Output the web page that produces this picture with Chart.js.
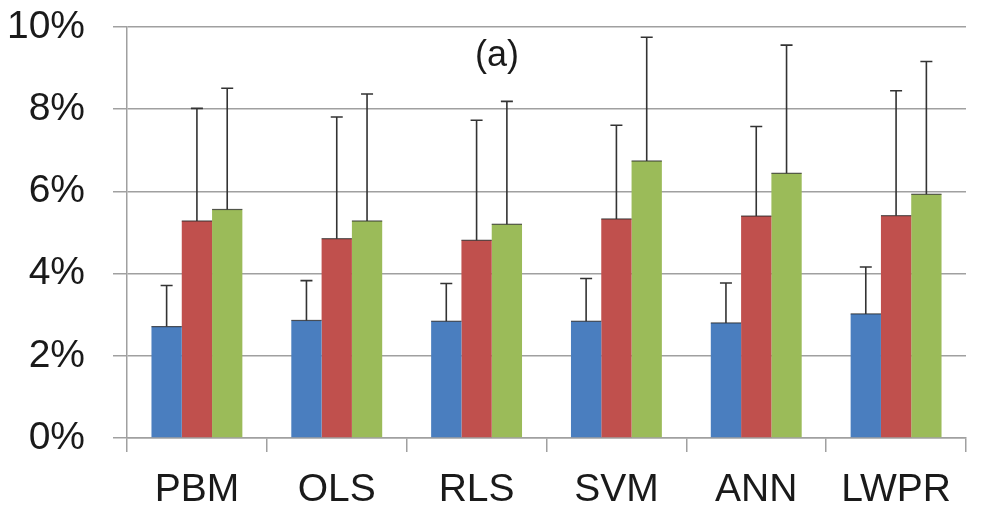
<!DOCTYPE html>
<html>
<head>
<meta charset="utf-8">
<script src="https://cdn.jsdelivr.net/npm/chart.js@4/dist/chart.umd.min.js"></script>
<style>
  html, body { margin: 0; padding: 0; background: #ffffff; }
  #wrap { width: 999px; height: 507px; position: relative; }
</style>
</head>
<body>
<div id="wrap"><canvas id="chart"></canvas></div>
<script>
// Model names along the x axis
const categories = ['PBM', 'OLS', 'RLS', 'SVM', 'ANN', 'LWPR'];

// Mean error (%) for each of the three series
const seriesBlue  = [2.71, 2.86, 2.84, 2.84, 2.80, 3.02];
const seriesRed   = [5.28, 4.85, 4.81, 5.33, 5.40, 5.41];
const seriesGreen = [5.56, 5.28, 5.20, 6.74, 6.44, 5.93];

// Upper error-bar lengths (%) for each series
const errBlue  = [1.00, 0.97, 0.92, 1.04, 0.97, 1.14];
const errRed   = [2.74, 2.96, 2.92, 2.28, 2.18, 3.04];
const errGreen = [2.95, 3.09, 2.99, 3.01, 3.12, 3.23];

// Y axis tick values (%)
const yTicks = [0, 2, 4, 6, 8, 10];

const panelLabel = '(a)';

const FONT = '"Liberation Sans", Arial, sans-serif';

// Draws an upward error bar with a cap on top of every bar
const errorBarPlugin = {
  id: 'errorBars',
  afterDatasetsDraw(chart) {
    const ctx = chart.ctx;
    const yScale = chart.scales.y;
    ctx.save();
    chart.data.datasets.forEach((ds, di) => {
      const meta = chart.getDatasetMeta(di);
      meta.data.forEach((bar, i) => {
        const v = ds.data[i];
        const e = ds.errors[i];
        const yTop = yScale.getPixelForValue(v + e);
        const yBase = yScale.getPixelForValue(v);
        const x = bar.x;
        const half = bar.width / 2;
        // thin dark edge along the bar top
        ctx.strokeStyle = 'rgba(40,40,40,0.75)';
        ctx.lineWidth = 1.2;
        ctx.beginPath();
        ctx.moveTo(x - half, yBase);
        ctx.lineTo(x + half, yBase);
        ctx.stroke();
        // whisker and cap
        ctx.strokeStyle = '#333333';
        ctx.lineWidth = 1.6;
        ctx.beginPath();
        ctx.moveTo(x, yBase);
        ctx.lineTo(x, yTop);
        ctx.moveTo(x - 6, yTop);
        ctx.lineTo(x + 6, yTop);
        ctx.stroke();
      });
    });
    ctx.restore();
  }
};

// Panel tag near the top of the plot
const panelLabelPlugin = {
  id: 'panelLabel',
  afterDraw(chart) {
    const ctx = chart.ctx;
    ctx.save();
    ctx.fillStyle = '#1a1a1a';
    ctx.font = '36px ' + FONT;
    ctx.textAlign = 'center';
    ctx.textBaseline = 'middle';
    ctx.fillText(panelLabel, 497, 56);
    ctx.restore();
  }
};

new Chart(document.getElementById('chart'), {
  type: 'bar',
  data: {
    labels: categories,
    datasets: [
      { label: 'Series 1', data: seriesBlue,  errors: errBlue,  backgroundColor: '#4a7ebf' },
      { label: 'Series 2', data: seriesRed,   errors: errRed,   backgroundColor: '#c0504d' },
      { label: 'Series 3', data: seriesGreen, errors: errGreen, backgroundColor: '#9bbb59' }
    ]
  },
  options: {
    responsive: true,
    maintainAspectRatio: false,
    animation: false,
    devicePixelRatio: 1,
    layout: { padding: { top: 27, right: 33, left: 0, bottom: 0 } },
    datasets: {
      bar: { categoryPercentage: 0.65, barPercentage: 1.0, borderWidth: 0 }
    },
    plugins: {
      legend: { display: false },
      tooltip: { enabled: false },
      title: { display: false }
    },
    scales: {
      x: {
        offset: true,
        grid: {
          offset: true,
          drawOnChartArea: false,
          drawTicks: true,
          tickLength: 14,
          color: '#a0a0a0',
          lineWidth: 1.5
        },
        border: { display: true, color: '#a0a0a0', width: 1.5 },
        ticks: {
          color: '#1a1a1a',
          font: { family: FONT, size: 39 },
          padding: 15,
          maxRotation: 0
        },
        afterFit(scale) {
          scale.height = 69;
          scale.paddingLeft = 0;
          scale.paddingRight = 0;
        }
      },
      y: {
        min: 0,
        max: 10,
        afterBuildTicks(scale) { scale.ticks = yTicks.map(v => ({ value: v })); },
        grid: {
          color: '#a0a0a0',
          lineWidth: 1.5,
          tickLength: 14,
          drawTicks: true
        },
        border: { display: true, color: '#a0a0a0', width: 1.5 },
        ticks: {
          color: '#1a1a1a',
          font: { family: FONT, size: 39 },
          padding: 28,
          callback: v => v + '%'
        },
        afterFit(scale) {
          scale.width = 127;
          scale.paddingTop = 0;
          scale.paddingBottom = 0;
        }
      }
    }
  },
  plugins: [errorBarPlugin, panelLabelPlugin]
});
</script>
</body>
</html>
